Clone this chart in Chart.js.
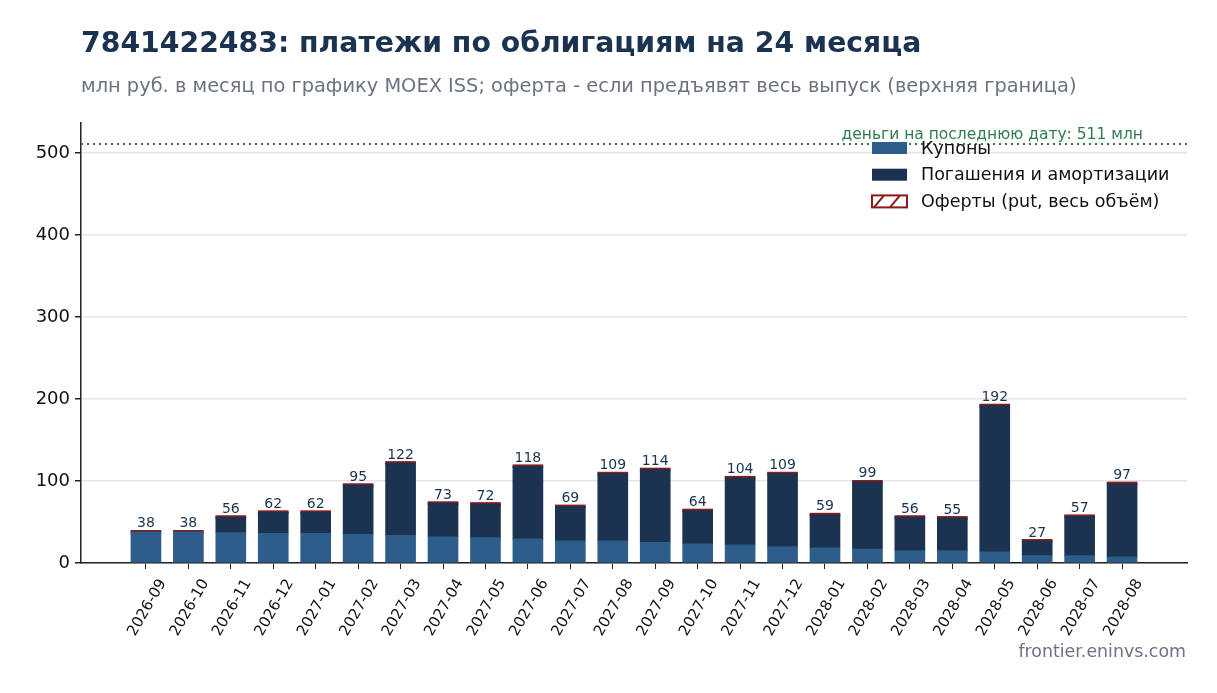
<!DOCTYPE html>
<html>
<head>
<meta charset="utf-8">
<script src="https://cdn.jsdelivr.net/npm/chart.js@4"></script>
<style>
  body { margin: 0; background: #fff; font-family: "DejaVu Sans", sans-serif; }
  #wrap { position: relative; width: 1217px; height: 693px; }
  #title { position: absolute; left: 81px; top: 26px; font-size: 28.3px; font-weight: bold; color: #1b3350; white-space: nowrap; line-height: 1.2; }
  #subtitle { position: absolute; left: 81px; top: 74px; font-size: 19.4px; color: #6b7280; white-space: nowrap; line-height: 1.2; }
  #footer { position: absolute; right: 31px; top: 641px; font-size: 17.4px; color: #6b7280; line-height: 1.2; }
  canvas { position: absolute; left: 0; top: 0; }
</style>
</head>
<body>
<div id="wrap">
  <canvas id="payments-chart" width="1217" height="693"></canvas>
  <div id="title">7841422483: платежи по облигациям на 24 месяца</div>
  <div id="subtitle">млн руб. в месяц по графику MOEX ISS; оферта - если предъявят весь выпуск (верхняя граница)</div>
  <div id="footer">frontier.eninvs.com</div>
</div>
<script>
const months = ['2026-09', '2026-10', '2026-11', '2026-12', '2027-01', '2027-02', '2027-03', '2027-04',
    '2027-05', '2027-06', '2027-07', '2027-08', '2027-09', '2027-10', '2027-11', '2027-12',
    '2028-01', '2028-02', '2028-03', '2028-04', '2028-05', '2028-06', '2028-07', '2028-08'];
const coupons = [38, 38, 37, 36, 36, 35, 33.5, 32, 31, 29.5, 27, 27, 25, 23.5, 22, 20, 18.5, 17, 15, 15, 13.5, 9, 9, 7.5];
const redemptions = [0, 0, 19, 26, 26, 60, 88.5, 41, 41, 88.5, 42, 82, 89, 40.5, 82, 89, 40.5, 82, 41, 40, 178.5, 18, 48, 89.5];
const offers = [0, 0, 0, 0, 0, 0, 0, 0, 0, 0, 0, 0, 0, 0, 0, 0, 0, 0, 0, 0, 0, 0, 0, 0];
const yTicks = [0, 100, 200, 300, 400, 500];
const lastDayCash = 511;

const totals = months.map((m, i) => coupons[i] + redemptions[i] + offers[i]);

const couponColor = '#2d5d8a';
const redemptionColor = '#1b3250';
const offerColor = '#8b1a1a';
const cashColor = '#2e7d4f';

const legendItems = [
    { label: 'Купоны', color: couponColor },
    { label: 'Погашения и амортизации', color: redemptionColor },
    { label: 'Оферты (put, весь объём)', color: null },
];

// value labels, cash line, legend
const overlay = {
    id: 'overlay',
    afterDatasetsDraw(chart) {
        const { ctx, chartArea, scales: { x, y } } = chart;
        ctx.save();

        ctx.font = '14px "DejaVu Sans"';
        ctx.fillStyle = '#1b3350';
        ctx.textAlign = 'center';
        ctx.textBaseline = 'bottom';
        totals.forEach((t, i) => {
            ctx.fillText(String(Math.round(t)), x.getPixelForValue(i), y.getPixelForValue(t) - 1);
        });

        const ly = y.getPixelForValue(lastDayCash);
        ctx.strokeStyle = cashColor;
        ctx.lineWidth = 2.2;
        ctx.setLineDash([2, 4]);
        ctx.beginPath();
        ctx.moveTo(chartArea.left, ly);
        ctx.lineTo(chartArea.right, ly);
        ctx.stroke();
        ctx.setLineDash([]);

        ctx.font = '17.5px "DejaVu Sans"';
        ctx.textAlign = 'left';
        ctx.textBaseline = 'middle';
        legendItems.forEach((item, k) => {
            const cy = chartArea.top + 25 + k * 26.7;
            const bx = chartArea.right - 315;
            if (item.color) {
                ctx.fillStyle = item.color;
                ctx.fillRect(bx, cy - 6, 35, 12);
            } else {
                ctx.fillStyle = '#fff';
                ctx.fillRect(bx, cy - 6, 35, 12);
                ctx.strokeStyle = offerColor;
                ctx.lineWidth = 2;
                ctx.strokeRect(bx, cy - 6, 35, 12);
                ctx.beginPath();
                ctx.moveTo(bx + 2, cy + 6); ctx.lineTo(bx + 12, cy - 6);
                ctx.moveTo(bx + 18, cy + 6); ctx.lineTo(bx + 28, cy - 6);
                ctx.stroke();
            }
            ctx.fillStyle = '#111';
            ctx.fillText(item.label, bx + 49, cy + 1);
        });

        ctx.font = '15.5px "DejaVu Sans"';
        ctx.fillStyle = cashColor;
        ctx.textAlign = 'right';
        ctx.textBaseline = 'bottom';
        ctx.fillText('деньги на последнюю дату: ' + lastDayCash + ' млн', chartArea.right - 44, ly - 1);
        ctx.restore();
    }
};

function points(values) {
    return values.map((v, i) => ({ x: i, y: v }));
}

new Chart(document.getElementById('payments-chart'), {
    type: 'bar',
    data: {
        datasets: [
            {
                label: 'Купоны',
                data: points(coupons),
                backgroundColor: couponColor,
                barThickness: 30,
            },
            {
                label: 'Погашения и амортизации',
                data: points(redemptions),
                backgroundColor: redemptionColor,
                barThickness: 30,
            },
            {
                label: 'Оферты (put, весь объём)',
                data: points(offers),
                backgroundColor: offerColor,
                borderWidth: 0,
                minBarLength: 3,
                barThickness: 30,
            }
        ]
    },
    options: {
        responsive: false,
        animation: false,
        layout: { padding: { top: 123, right: 30, left: 0, bottom: 0 } },
        plugins: {
            legend: { display: false },
            tooltip: { enabled: false },
        },
        scales: {
            x: {
                type: 'linear',
                stacked: true,
                offset: false,
                min: -1.53,
                max: months.length - 1 + 1.53,
                grid: { offset: false, drawOnChartArea: false, drawTicks: true, tickLength: 6, tickColor: '#222' },
                border: { display: true, color: '#222', width: 1.5 },
                afterBuildTicks: scale => { scale.ticks = months.map((m, i) => ({ value: i })); },
                afterFit: scale => { scale.height = 130; },
                ticks: {
                    autoSkip: false,
                    minRotation: 60,
                    maxRotation: 60,
                    padding: 7,
                    labelOffset: 17,
                    color: '#111',
                    font: { family: 'DejaVu Sans', size: 15 },
                    callback: v => months[v],
                },
            },
            y: {
                stacked: true,
                min: 0,
                max: 536.6,
                grid: { color: '#e6e6ea', lineWidth: 1.5, tickLength: 6, tickColor: '#222' },
                border: { display: true, color: '#222', width: 1.5 },
                afterBuildTicks: scale => { scale.ticks = yTicks.map(v => ({ value: v })); },
                afterFit: scale => { scale.width = 81; },
                ticks: {
                    padding: 5,
                    color: '#111',
                    font: { family: 'DejaVu Sans', size: 18 },
                },
            }
        }
    },
    plugins: [overlay]
});
</script>
</body>
</html>
